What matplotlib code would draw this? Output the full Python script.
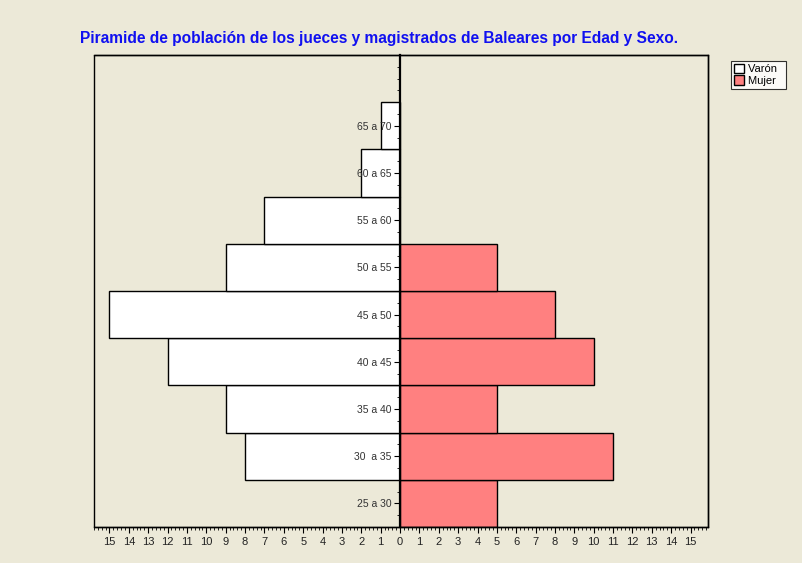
import numpy as np
import matplotlib.pyplot as plt
from matplotlib.patches import Patch, Rectangle
from matplotlib.ticker import MultipleLocator

# Datos
edades = ['25 a 30', '30  a 35', '35 a 40', '40 a 45', '45 a 50',
          '50 a 55', '55 a 60', '60 a 65', '65 a 70']
varon = [0, 8, 9, 12, 15, 9, 7, 2, 1]
mujer = [5, 11, 5, 10, 8, 5, 0, 0, 0]
xticks = list(range(-15, 16))

fondo = '#ECE9D8'
rosa = '#FF8080'

plt.rcParams['font.family'] = ['Liberation Sans', 'DejaVu Sans']

fig = plt.figure(figsize=(8.02, 5.63), dpi=100, facecolor=fondo)
ax = fig.add_axes([94 / 802, 1 - 527 / 563, 614 / 802, 472 / 563])
ax.set_facecolor(fondo)

y = np.arange(len(edades))
v = np.array(varon)
m = np.array(mujer)
ax.barh(y[v > 0], -v[v > 0], height=1, color='white', edgecolor='black', linewidth=1)
ax.barh(y[m > 0], m[m > 0], height=1, color=rosa, edgecolor='black', linewidth=1)

ax.set_xlim(-15.8, 15.9)
ax.set_ylim(-0.5, 9.5)

# eje vertical en el centro
ax.spines['left'].set_position(('data', 0))
ax.spines['left'].set_linewidth(1.6)
for s in ['top', 'right', 'bottom']:
    ax.spines[s].set_linewidth(1.0)
ax.add_patch(Rectangle((0, 0), 1, 1, transform=ax.transAxes, fill=False,
                       edgecolor='black', linewidth=1.0, clip_on=False, zorder=5))

ax.set_xticks(xticks)
ax.set_xticklabels([str(abs(t)) for t in xticks])
ax.xaxis.set_minor_locator(MultipleLocator(0.2))
ax.tick_params(axis='x', which='major', length=4, width=0.8, pad=3, labelsize=8,
               labelcolor='#222222')
ax.tick_params(axis='x', which='minor', length=2, width=0.6)

ax.set_yticks(y)
ax.set_yticklabels(edades)
ax.yaxis.set_minor_locator(MultipleLocator(0.25))
ax.tick_params(axis='y', which='major', length=4, width=0.8, pad=2, labelsize=7.5,
               labelcolor='#333333')
ax.tick_params(axis='y', which='minor', length=2, width=0.6)

fig.text(0.4726, 1 - 38 / 563, 'Piramide de población de los jueces y magistrados de Baleares por Edad y Sexo.',
         ha='center', va='center', color='#1010F0', fontsize=11.2, fontweight='bold')

handles = [Patch(facecolor='white', edgecolor='black', label='Varón'),
           Patch(facecolor=rosa, edgecolor='black', label='Mujer')]
leg = fig.legend(handles=handles, loc='upper left', bbox_to_anchor=(731 / 802, 1 - 61 / 563),
                 fontsize=8, frameon=True, fancybox=False, edgecolor='black',
                 handlelength=0.9, handleheight=0.9, handletextpad=0.4,
                 borderpad=0.25, labelspacing=0.1, borderaxespad=0)
leg.get_frame().set_linewidth(0.8)
leg.get_frame().set_facecolor('white')
# el recuadro de la leyenda es algo más ancho que el texto
for t in leg.get_texts():
    t.set_text(t.get_text() + '  ')

fig.savefig('out.png', dpi=100, facecolor=fondo)
